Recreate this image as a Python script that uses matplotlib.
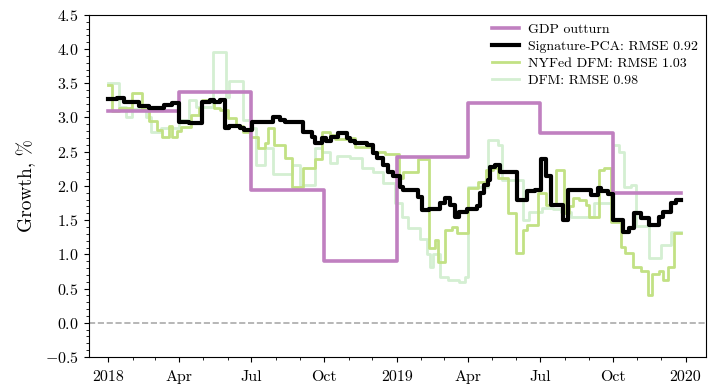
import matplotlib
matplotlib.use("Agg")
import matplotlib.pyplot as plt
import matplotlib.dates as mdates
from matplotlib.ticker import AutoMinorLocator, FuncFormatter
import pandas as pd

plt.rcParams['font.family'] = 'serif'
plt.rcParams['font.serif'] = ['cmr10']
plt.rcParams['mathtext.fontset'] = 'cm'
plt.rcParams['axes.formatter.use_mathtext'] = True
plt.rcParams['axes.unicode_minus'] = True

# ---------------- data ----------------
gdp_dates = ["2018-01-01", "2018-04-01", "2018-07-01", "2018-10-01", "2019-01-01",
             "2019-04-01", "2019-07-01", "2019-10-01", "2019-12-26"]
gdp_values = [3.10, 3.37, 1.94, 0.90, 2.42, 3.21, 2.77, 1.90, 1.90]

sig_dates = ["2018-01-01", "2018-01-12", "2018-01-21", "2018-02-09", "2018-02-22", "2018-03-13",
             "2018-03-22", "2018-04-01", "2018-04-13", "2018-04-30", "2018-05-09", "2018-05-15",
             "2018-05-22", "2018-05-28", "2018-06-03", "2018-06-16", "2018-06-22", "2018-07-02",
             "2018-07-28", "2018-08-06", "2018-08-12", "2018-09-04", "2018-09-15", "2018-09-19",
             "2018-09-28", "2018-10-03", "2018-10-10", "2018-10-18", "2018-10-30", "2018-11-03",
             "2018-11-09", "2018-11-24", "2018-12-02", "2018-12-07", "2018-12-14", "2018-12-21",
             "2018-12-27", "2019-01-05", "2019-01-09", "2019-01-27", "2019-02-02", "2019-02-10",
             "2019-02-25", "2019-03-03", "2019-03-09", "2019-03-15", "2019-03-21", "2019-03-30",
             "2019-04-12", "2019-04-16", "2019-04-21", "2019-04-26", "2019-04-29", "2019-05-05",
             "2019-05-11", "2019-06-02", "2019-06-14", "2019-06-25", "2019-07-02", "2019-07-08",
             "2019-07-15", "2019-07-30", "2019-08-05", "2019-09-03", "2019-09-12", "2019-09-16",
             "2019-09-25", "2019-10-01", "2019-10-14", "2019-10-21", "2019-10-28", "2019-11-06",
             "2019-11-16", "2019-11-29", "2019-12-04", "2019-12-14", "2019-12-20", "2019-12-26"]
sig_values = [3.27, 3.29, 3.22, 3.17, 3.14, 3.18,
              3.21, 2.94, 2.92, 3.23, 3.26, 3.22,
              3.25, 2.85, 2.88, 2.85, 2.82, 2.94,
              3.01, 2.96, 2.93, 2.79, 2.72, 2.63,
              2.70, 2.65, 2.72, 2.77, 2.70, 2.65,
              2.62, 2.60, 2.48, 2.41, 2.31, 2.21,
              2.14, 1.99, 1.94, 1.84, 1.65, 1.67,
              1.75, 1.82, 1.72, 1.55, 1.62, 1.67,
              1.70, 1.89, 2.01, 2.09, 2.28, 2.31,
              2.21, 1.80, 1.92, 1.94, 2.40, 2.14,
              1.72, 1.50, 1.94, 1.87, 1.97, 1.92,
              1.88, 1.50, 1.33, 1.38, 1.60, 1.53,
              1.43, 1.55, 1.62, 1.75, 1.79, 1.79]

nyfed_dates = ["2018-01-01", "2018-01-06", "2018-01-15", "2018-01-31", "2018-02-12", "2018-02-22",
               "2018-03-04", "2018-03-10", "2018-03-19", "2018-03-23", "2018-03-29", "2018-04-03",
               "2018-04-16", "2018-04-26", "2018-04-30", "2018-05-15", "2018-05-22", "2018-06-01",
               "2018-06-12", "2018-06-20", "2018-06-29", "2018-07-09", "2018-07-18", "2018-07-22",
               "2018-07-30", "2018-08-12", "2018-08-21", "2018-09-04", "2018-09-19", "2018-09-28",
               "2018-10-08", "2018-10-15", "2018-10-30", "2018-11-09", "2018-12-02", "2018-12-17",
               "2019-01-03", "2019-01-09", "2019-01-28", "2019-02-10", "2019-02-18", "2019-02-22",
               "2019-03-03", "2019-03-12", "2019-03-18", "2019-04-01", "2019-04-14", "2019-04-23",
               "2019-05-03", "2019-05-09", "2019-05-21", "2019-05-31", "2019-06-10", "2019-06-15",
               "2019-06-28", "2019-07-08", "2019-07-21", "2019-07-31", "2019-08-06", "2019-08-11",
               "2019-08-19", "2019-08-28", "2019-09-01", "2019-09-13", "2019-09-20", "2019-09-29",
               "2019-10-11", "2019-10-17", "2019-10-26", "2019-11-05", "2019-11-14", "2019-11-20",
               "2019-11-28", "2019-12-04", "2019-12-10", "2019-12-17", "2019-12-26"]
nyfed_values = [3.47, 3.10, 3.14, 3.36, 3.12, 2.95,
                2.82, 2.72, 2.87, 2.72, 2.80, 2.86,
                3.04, 3.14, 3.26, 3.14, 3.11, 2.99,
                2.87, 2.79, 2.72, 2.55, 2.62, 2.84,
                2.60, 2.41, 1.99, 2.26, 2.40, 2.79,
                2.75, 2.68, 2.70, 2.57, 2.50, 2.46,
                2.11, 2.20, 2.40, 1.09, 1.21, 0.89,
                1.36, 1.40, 1.31, 1.97, 2.05, 2.23,
                2.26, 2.11, 1.60, 1.02, 1.36, 1.43,
                1.89, 1.72, 2.23, 1.60, 1.70, 1.82,
                1.80, 1.72, 1.55, 2.23, 2.26, 1.48,
                1.11, 1.02, 0.82, 0.75, 0.41, 0.72,
                0.75, 0.63, 0.82, 1.31, 1.31]

dfm_dates = ["2018-01-01", "2018-01-15", "2018-01-23", "2018-01-31", "2018-02-18", "2018-02-24",
             "2018-03-09", "2018-04-01", "2018-04-13", "2018-04-22", "2018-05-13", "2018-05-30",
             "2018-06-03", "2018-06-20", "2018-07-01", "2018-07-07", "2018-07-18", "2018-07-28",
             "2018-08-21", "2018-08-31", "2018-09-19", "2018-09-28", "2018-10-08", "2018-10-17",
             "2018-11-03", "2018-11-18", "2018-12-02", "2018-12-14", "2018-12-30", "2019-01-08",
             "2019-01-15", "2019-01-30", "2019-02-08", "2019-02-12", "2019-02-16", "2019-02-25",
             "2019-03-06", "2019-03-20", "2019-03-28", "2019-04-01", "2019-04-26", "2019-05-09",
             "2019-05-14", "2019-05-31", "2019-06-09", "2019-06-17", "2019-07-04", "2019-07-17",
             "2019-07-27", "2019-08-09", "2019-09-07", "2019-10-01", "2019-10-09", "2019-10-15",
             "2019-10-24", "2019-10-30", "2019-11-16", "2019-12-01", "2019-12-14", "2019-12-26"]
dfm_values = [3.50, 3.16, 3.01, 3.12, 3.00, 2.79,
              2.85, 2.96, 3.26, 3.15, 3.96, 3.30,
              3.53, 2.96, 2.85, 2.30, 2.55, 2.17,
              2.31, 2.02, 2.55, 2.50, 2.33, 2.43,
              2.41, 2.26, 2.21, 2.04, 1.75, 1.55,
              1.38, 1.23, 1.00, 0.82, 1.00, 0.67,
              0.63, 0.60, 0.67, 1.99, 2.67, 2.60,
              2.09, 2.09, 1.50, 1.62, 1.68, 1.67,
              1.62, 1.55, 1.75, 2.60, 2.50, 1.99,
              2.02, 1.41, 0.94, 1.14, 1.33, 1.33]

labels = ["GDP outturn", "Signature-PCA: RMSE 0.92", "NYFed DFM: RMSE 1.03", "DFM: RMSE 0.98"]
colors = ["#c080c0", "#000000", "#c2e184", "#d4efd2"]

# ---------------- plot ----------------
fig = plt.figure(figsize=(7.14, 3.91), dpi=100)
ax = fig.add_axes([0.124, 0.087, 0.865, 0.875])

ax.axhline(0.0, color="#aaaaaa", linestyle="--", linewidth=1.2, zorder=1)

ax.step(pd.to_datetime(dfm_dates), dfm_values, where="post", color=colors[3], lw=2.0, label=labels[3], zorder=2)
ax.step(pd.to_datetime(nyfed_dates), nyfed_values, where="post", color=colors[2], lw=2.0, label=labels[2], zorder=3)
ax.step(pd.to_datetime(gdp_dates), gdp_values, where="post", color=colors[0], lw=2.6, label=labels[0], zorder=4)
ax.step(pd.to_datetime(sig_dates), sig_values, where="post", color=colors[1], lw=3.0, label=labels[1], zorder=5)

ax.set_ylim(-0.5, 4.5)
ax.set_xlim(pd.Timestamp("2017-12-07"), pd.Timestamp("2020-01-27"))
ax.set_yticks([-0.5, 0.0, 0.5, 1.0, 1.5, 2.0, 2.5, 3.0, 3.5, 4.0, 4.5])
ax.yaxis.set_minor_locator(AutoMinorLocator())

ax.xaxis.set_major_locator(mdates.MonthLocator(bymonth=[1, 4, 7, 10]))
ax.xaxis.set_minor_locator(mdates.MonthLocator())
def fmt(x, pos):
    d = mdates.num2date(x)
    return d.strftime("%Y") if d.month == 1 else d.strftime("%b")
ax.xaxis.set_major_formatter(FuncFormatter(fmt))

ax.tick_params(axis="both", which="major", labelsize=11.5)
ax.tick_params(axis="x", which="major", pad=13.5)
for lab in ax.get_xticklabels():
    lab.set_verticalalignment("baseline")
ax.set_ylabel("Growth, %", fontsize=14, labelpad=6)

handles, labs = ax.get_legend_handles_labels()
order = [labs.index(l) for l in labels]
ax.legend([handles[i] for i in order], [labs[i] for i in order],
          loc="upper right", frameon=False, fontsize=10, handlelength=2.0,
          handletextpad=0.6, borderaxespad=0.1, borderpad=0.5, labelspacing=0.3)

fig.savefig("out.png", dpi=100)
